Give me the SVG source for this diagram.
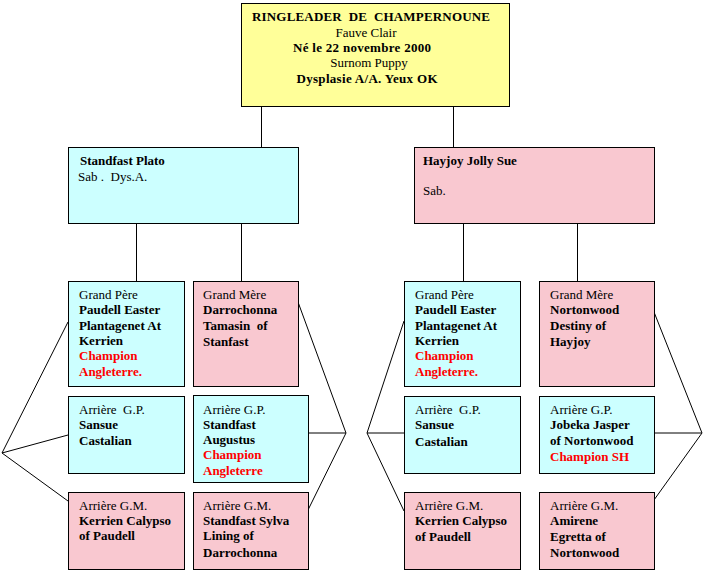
<svg xmlns="http://www.w3.org/2000/svg" width="703" height="572" viewBox="0 0 703 572">
<style>
.b{stroke:#000;stroke-width:1}
.y{fill:#FFFF99}
.c{fill:#CCFFFF}
.p{fill:#F9C8D0}
text{font-family:"Liberation Serif","Times New Roman",serif;font-size:13px;fill:#000;white-space:pre}
.bd{font-weight:bold}
.r{fill:#FF0000;font-weight:bold}
.m{text-anchor:middle}
.ln{stroke:#000;stroke-width:1;fill:none}
</style>
<rect width="703" height="572" fill="#fff"/>
<g id="connectors">
<path class="ln" d="M261.5 107V147M453.5 107V147"/>
<path class="ln" d="M136.5 224V281M241.5 224V281M463.5 224V281M577.5 224V281"/>
<path class="ln" d="M68 322L2 453L68 435M2 453L68 501"/>
<path class="ln" d="M298 302L346 433L308 433M346 433L308 510"/>
<path class="ln" d="M404 321L367 433L404 433M367 433L404 511"/>
<path class="ln" d="M654 312L702 433L654 433M702 433L654 500"/>
</g>
<g id="root">
<rect class="b y" x="241.5" y="3.5" width="268" height="103"/>
<text class="bd m" x="371" y="21" textLength="238" lengthAdjust="spacing">RINGLEADER  DE  CHAMPERNOUNE</text>
<text class="m" x="366" y="37">Fauve Clair</text>
<text class="bd m" x="362" y="52" textLength="138" lengthAdjust="spacing">Né le 22 novembre 2000</text>
<text class="m" x="369" y="67">Surnom Puppy</text>
<text class="bd m" x="367" y="83" textLength="141" lengthAdjust="spacing">Dysplasie A/A. Yeux OK</text>
</g>
<g id="father">
<rect class="b c" x="68.5" y="147.5" width="230" height="76"/>
<text class="bd" x="80" y="165">Standfast Plato</text>
<text x="78" y="181">Sab .  Dys.A.</text>
</g>
<g id="mother">
<rect class="b p" x="414.5" y="147.5" width="240" height="76"/>
<text class="bd" x="423" y="165">Hayjoy Jolly Sue</text>
<text x="423" y="195">Sab.</text>
</g>
<g id="gp-left">
<rect class="b c" x="68.5" y="281.5" width="116" height="105"/>
<text x="79" y="299">Grand Père</text>
<text class="bd" x="79" y="314">Paudell Easter</text>
<text class="bd" x="79" y="330">Plantagenet At</text>
<text class="bd" x="79" y="345">Kerrien</text>
<text class="r" x="79" y="360">Champion</text>
<text class="r" x="79" y="376">Angleterre.</text>
</g>
<g id="gm-left">
<rect class="b p" x="193.5" y="281.5" width="105" height="105"/>
<text x="203" y="299">Grand Mère</text>
<text class="bd" x="203" y="314">Darrochonna</text>
<text class="bd" x="203" y="330">Tamasin  of</text>
<text class="bd" x="203" y="346">Stanfast</text>
</g>
<g id="gp-right">
<rect class="b c" x="404.5" y="281.5" width="116" height="105"/>
<text x="415" y="299">Grand Père</text>
<text class="bd" x="415" y="314">Paudell Easter</text>
<text class="bd" x="415" y="330">Plantagenet At</text>
<text class="bd" x="415" y="345">Kerrien</text>
<text class="r" x="415" y="360">Champion</text>
<text class="r" x="415" y="376">Angleterre.</text>
</g>
<g id="gm-right">
<rect class="b p" x="539.5" y="281.5" width="115" height="105"/>
<text x="550" y="299">Grand Mère</text>
<text class="bd" x="550" y="314">Nortonwood</text>
<text class="bd" x="550" y="330">Destiny of</text>
<text class="bd" x="550" y="346">Hayjoy</text>
</g>
<g id="agp-left-1">
<rect class="b c" x="68.5" y="396.5" width="116" height="77"/>
<text x="79" y="414">Arrière  G.P.</text>
<text class="bd" x="79" y="429">Sansue</text>
<text class="bd" x="79" y="445">Castalian</text>
</g>
<g id="agp-left-2">
<rect class="b c" x="193.5" y="395.5" width="115" height="87"/>
<text x="203" y="414">Arrière G.P.</text>
<text class="bd" x="203" y="429">Standfast</text>
<text class="bd" x="203" y="444">Augustus</text>
<text class="r" x="203" y="459">Champion</text>
<text class="r" x="203" y="475">Angleterre</text>
</g>
<g id="agm-left-1">
<rect class="b p" x="68.5" y="492.5" width="116" height="77"/>
<text x="79" y="510">Arrière G.M.</text>
<text class="bd" x="79" y="525">Kerrien Calypso</text>
<text class="bd" x="79" y="540">of Paudell</text>
</g>
<g id="agm-left-2">
<rect class="b p" x="193.5" y="492.5" width="115" height="77"/>
<text x="203" y="510">Arrière G.M.</text>
<text class="bd" x="203" y="525">Standfast Sylva</text>
<text class="bd" x="203" y="540">Lining of</text>
<text class="bd" x="203" y="557">Darrochonna</text>
</g>
<g id="agp-right-1">
<rect class="b c" x="404.5" y="396.5" width="116" height="77"/>
<text x="415" y="414">Arrière  G.P.</text>
<text class="bd" x="415" y="429">Sansue</text>
<text class="bd" x="415" y="446">Castalian</text>
</g>
<g id="agp-right-2">
<rect class="b c" x="539.5" y="396.5" width="115" height="77"/>
<text x="550" y="414">Arrière G.P.</text>
<text class="bd" x="550" y="429">Jobeka Jasper</text>
<text class="bd" x="550" y="445">of Nortonwood</text>
<text class="r" x="550" y="461">Champion SH</text>
</g>
<g id="agm-right-1">
<rect class="b p" x="404.5" y="492.5" width="116" height="77"/>
<text x="415" y="510">Arrière G.M.</text>
<text class="bd" x="415" y="525">Kerrien Calypso</text>
<text class="bd" x="415" y="541">of Paudell</text>
</g>
<g id="agm-right-2">
<rect class="b p" x="539.5" y="492.5" width="115" height="77"/>
<text x="550" y="510">Arrière G.M.</text>
<text class="bd" x="550" y="525">Amirene</text>
<text class="bd" x="550" y="541">Egretta of</text>
<text class="bd" x="550" y="557">Nortonwood</text>
</g>
</svg>
